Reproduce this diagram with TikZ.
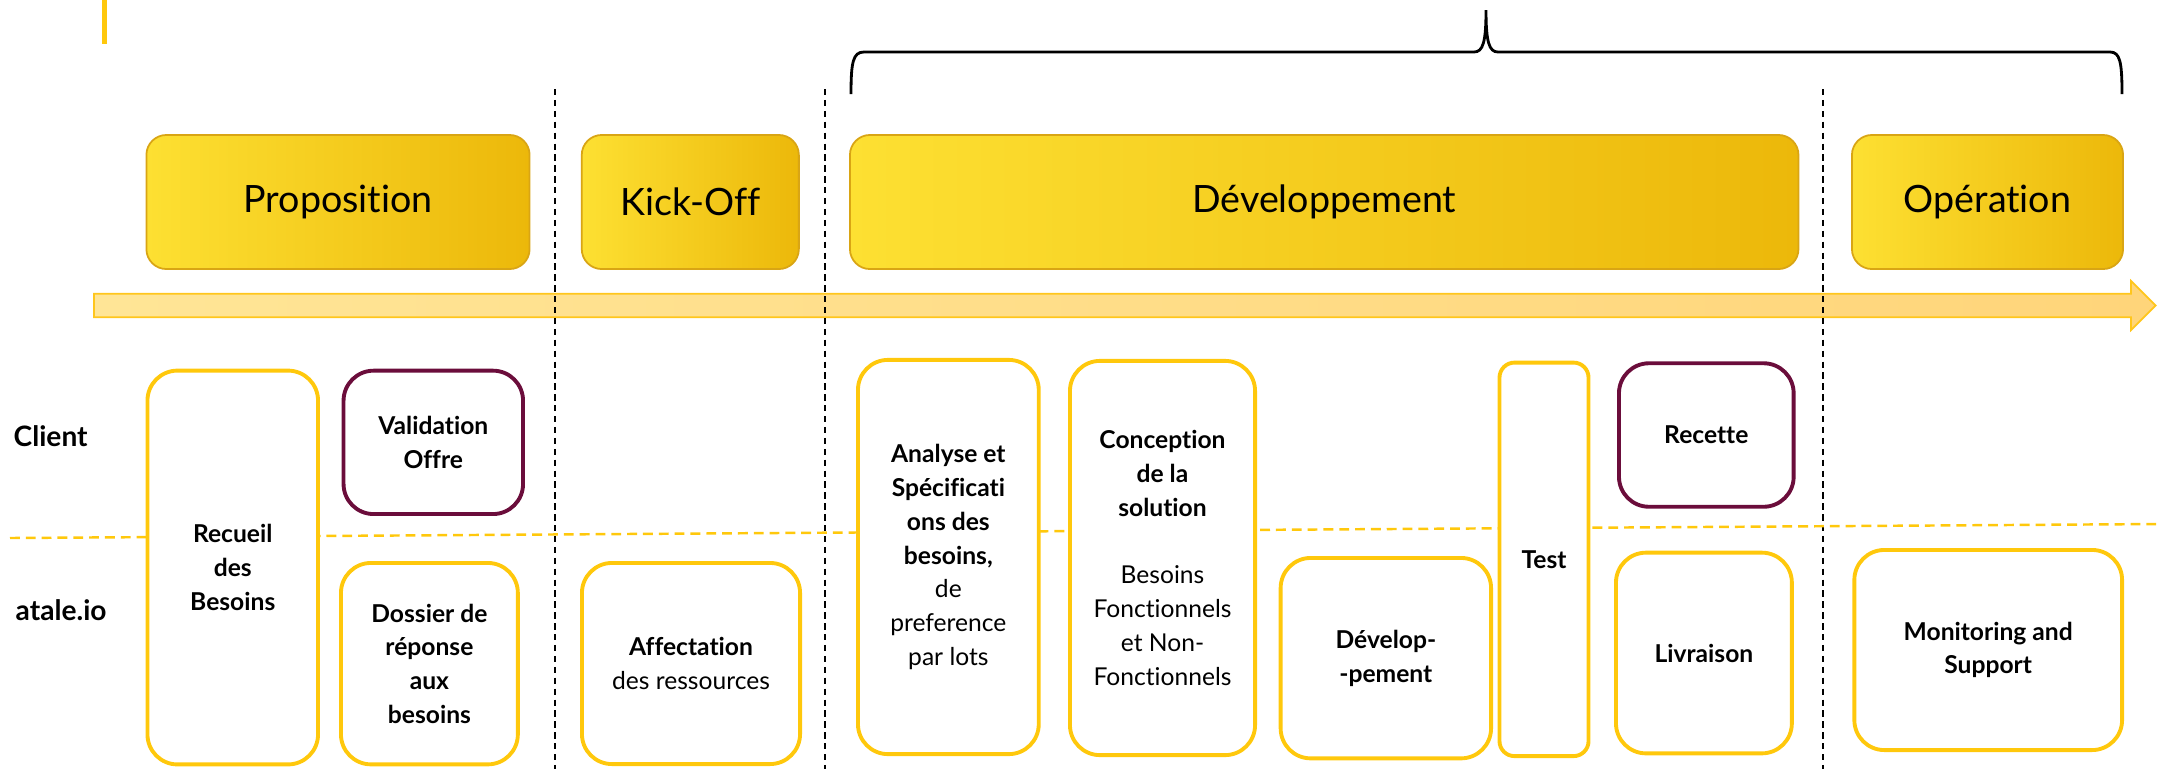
\documentclass[tikz,border=0pt]{standalone}
\usepackage{fontspec}
\setmainfont{Lato}[Ligatures={NoCommon}]
\definecolor{hdrlight}{HTML}{FDE032}
\definecolor{hdrdark}{HTML}{ECB80A}
\definecolor{hdredge}{HTML}{D9A514}
\definecolor{laneyellow}{HTML}{FFC80C}
\definecolor{maroon}{HTML}{6B0D3B}
\definecolor{arrowlight}{HTML}{FFE596}
\definecolor{arrowdark}{HTML}{FFD57A}
\definecolor{arrowedge}{HTML}{FFC61C}
\begin{document}
\begin{tikzpicture}[x=0.01cm,y=-0.01cm,
	phase/.style={rounded corners=0.2cm, draw=hdredge, line width=0.5pt, left color=hdrlight, right color=hdrdark, inner sep=0pt, font=\fontsize{10.7}{12}\selectfont},
	task/.style={rounded corners=0.3cm, draw=laneyellow, line width=1.1pt, fill=white, align=center, inner sep=0pt, font=\fontsize{7}{9.6}\selectfont\bfseries},
	clienttask/.style={task, draw=maroon},
	lane/.style={anchor=west, inner sep=0pt, font=\fontsize{8}{9.6}\selectfont\bfseries},
	phasesep/.style={line width=0.6pt, dash pattern=on 1.8pt off 1.3pt},
	lanesep/.style={draw=laneyellow, line width=0.7pt, dash pattern=on 2.8pt off 1.7pt}]
			\useasboundingbox (0,0) rectangle (2161,769);
			\draw [laneyellow, line width=1.2pt] (104.6,0) -- (104.6,43.7);
			\draw [line width=0.8pt] (851,94) .. controls (851,62) and (853,52) .. (864,52) -- (1474,52) .. controls (1483,52) and (1486,42) .. (1486,10) .. controls (1486,42) and (1489,52) .. (1498,52) -- (2110,52) .. controls (2120,52) and (2122,62) .. (2122,94);
			\draw [draw=arrowedge, line width=0.5pt, left color=arrowlight, right color=arrowdark] (94,293.7) -- (2131,293.7) -- (2131,281) -- (2155.6,305.5) -- (2131,330) -- (2131,317.3) -- (94,317.3) -- cycle;
			\draw [phasesep] (555,89) -- (555,769);
			\draw [phasesep] (825.4,89) -- (825.4,769);
			\draw [phasesep] (1823,89) -- (1823,769);
			\draw [lanesep] (10,538) -- (2161,524);
			\node [phase, minimum width=3.83cm, minimum height=1.34cm] (proposition) at (338,202) {Proposition};
			\node [phase, minimum width=2.17cm, minimum height=1.34cm] (kickoff) at (690.3,202) {Kick-Off};
			\node [phase, minimum width=9.48cm, minimum height=1.34cm] (developpement) at (1324.2,202) {Développement};
			\node [phase, minimum width=2.71cm, minimum height=1.34cm] (operation) at (1987.5,202) {Opération};
			\node [lane] (client) at (13,436) {Client};
			\node [lane] (atale) at (15,610) {atale.io};
			\node [task, minimum width=1.705cm, minimum height=3.936cm] (recueil) at (232.75,567.5) {Recueil\\des\\Besoins};
			\node [clienttask, minimum width=1.794cm, minimum height=1.433cm] (validation) at (433.3,442.35) {Validation\\Offre};
			\node [task, minimum width=1.768cm, minimum height=2.013cm] (dossier) at (429.4,663.65) {Dossier de\\réponse\\aux\\besoins};
			\node [task, minimum width=2.18cm, minimum height=2.01cm] (affectation) at (691,663.5) {Affectation\\{\mdseries des ressources}};
			\node [task, minimum width=1.807cm, minimum height=3.94cm] (analyse) at (948.35,557) {Analyse et\\Spécificati\\ons des\\besoins,\\{\mdseries de}\\{\mdseries preference}\\{\mdseries par lots}};
			\node [task, minimum width=1.85cm, minimum height=3.94cm] (conception) at (1162.5,558) {Conception\\de la\\solution\\[9.6pt]{\mdseries Besoins}\\{\mdseries Fonctionnels}\\{\mdseries et Non-}\\{\mdseries Fonctionnels}};
			\node [task, minimum width=2.103cm, minimum height=2.003cm] (dev) at (1385.85,658.15) {Dévelop-\\-pement};
			\node [task, rounded corners=0.15cm, minimum width=0.89cm, minimum height=3.933cm] (test) at (1544,559.35) {Test};
			\node [clienttask, minimum width=1.746cm, minimum height=1.434cm] (recette) at (1706.3,435) {Recette};
			\node [task, minimum width=1.758cm, minimum height=2.006cm] (livraison) at (1703.9,653) {Livraison};
			\node [task, minimum width=2.676cm, minimum height=2cm] (monitoring) at (1988.2,650) {Monitoring and\\Support};
		\end{tikzpicture}
\end{document}
